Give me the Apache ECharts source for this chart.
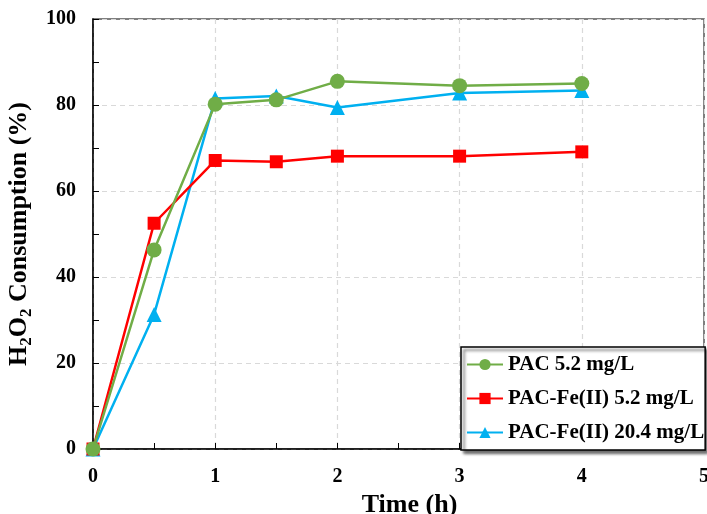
<!DOCTYPE html>
<html><head><meta charset="utf-8">
<script src="https://cdn.jsdelivr.net/npm/echarts@6/dist/echarts.min.js"></script>
<style>html,body{margin:0;padding:0;background:#fff}#c{width:707px;height:514px}</style>
</head><body><div id="c"></div>
<script>
const timeH = [0, 0.5, 1, 1.5, 2, 3, 4];
const pac52 = [0, 46.3, 80.2, 81.2, 85.5, 84.5, 85.0];
const pacFe52 = [0, 52.5, 67.1, 66.8, 68.1, 68.1, 69.1];
const pacFe204 = [0, 31.3, 81.5, 82.1, 79.4, 82.8, 83.4];
const seriesNames = ['PAC 5.2 mg/L', 'PAC-Fe(II) 5.2 mg/L', 'PAC-Fe(II) 20.4 mg/L'];
const colors = ['#70AD47', '#FF0000', '#00B0F0'];
const symbols = ['circle', 'rect', 'triangle'];
const datasets = [pac52, pacFe52, pacFe204];

const font = 'Liberation Serif';
const chart = echarts.init(document.getElementById('c'));
chart.setOption({
  animation: false,
  grid: {left: 93, right: 3, top: 19, bottom: 65, show: true, borderColor: '#555', borderWidth: 1.5,
         containLabel: false, outerBoundsMode: 'none'},
  xAxis: {
    type: 'value', min: 0, max: 5, interval: 1,
    name: 'Time (h)', nameLocation: 'middle', nameGap: 41,
    nameTextStyle: {fontFamily: font, fontWeight: 'bold', fontSize: 26, color: '#000', padding: [0, 0, 0, 22]},
    axisLine: {lineStyle: {color: '#000', width: 1.5}},
    axisTick: {show: true, inside: true, length: 6, lineStyle: {color: '#000'}},
    minorTick: {show: true, splitNumber: 2, length: 6, lineStyle: {color: '#000'}},
    axisLabel: {fontFamily: font, fontWeight: 'bold', fontSize: 20, color: '#000', margin: 18},
    splitLine: {show: true, lineStyle: {color: '#d9d9d9', type: [5, 4], width: 1.2}}
  },
  yAxis: {
    type: 'value', min: 0, max: 100, interval: 20,
    name: '{t|H}{s|2}{t|O}{s|2}{t| Consumption (%)}', nameLocation: 'middle', nameGap: 51,
    nameTextStyle: {rich: {
      t: {fontFamily: font, fontWeight: 'bold', fontSize: 26, color: '#000'},
      s: {fontFamily: font, fontWeight: 'bold', fontSize: 17, color: '#000', verticalAlign: 'bottom', padding: [14, 0, 0, 0]}
    }},
    axisLine: {show: true, lineStyle: {color: '#000', width: 1.5}},
    axisTick: {show: true, inside: true, length: 6, lineStyle: {color: '#000'}},
    minorTick: {show: true, splitNumber: 2, length: 6, lineStyle: {color: '#000'}},
    axisLabel: {fontFamily: font, fontWeight: 'bold', fontSize: 20, color: '#000', margin: 17},
    splitLine: {show: true, lineStyle: {color: '#d9d9d9', type: [5, 4], width: 1.2}}
  },
  legend: {
    orient: 'vertical', left: 461, top: 347, itemWidth: 36, itemHeight: 14,
    itemGap: 13, padding: [7, 1, 7, 5],
    backgroundColor: '#fff', borderColor: '#000', borderWidth: 1.5,
    shadowColor: 'rgba(0,0,0,0.6)', shadowBlur: 3, shadowOffsetX: 3, shadowOffsetY: 3,
    textStyle: {fontFamily: font, fontWeight: 'bold', fontSize: 21, color: '#000'},
    data: seriesNames
  },
  series: datasets.map((d, i) => ({
    name: seriesNames[i], type: 'line',
    data: timeH.map((t, j) => [t, d[j]]),
    symbol: symbols[i], symbolSize: i === 1 ? 13 : 15,
    color: colors[i],
    lineStyle: {width: 2.5, color: colors[i]},
    itemStyle: {color: colors[i]},
    z: 3 - i
  }))
});
</script></body></html>
